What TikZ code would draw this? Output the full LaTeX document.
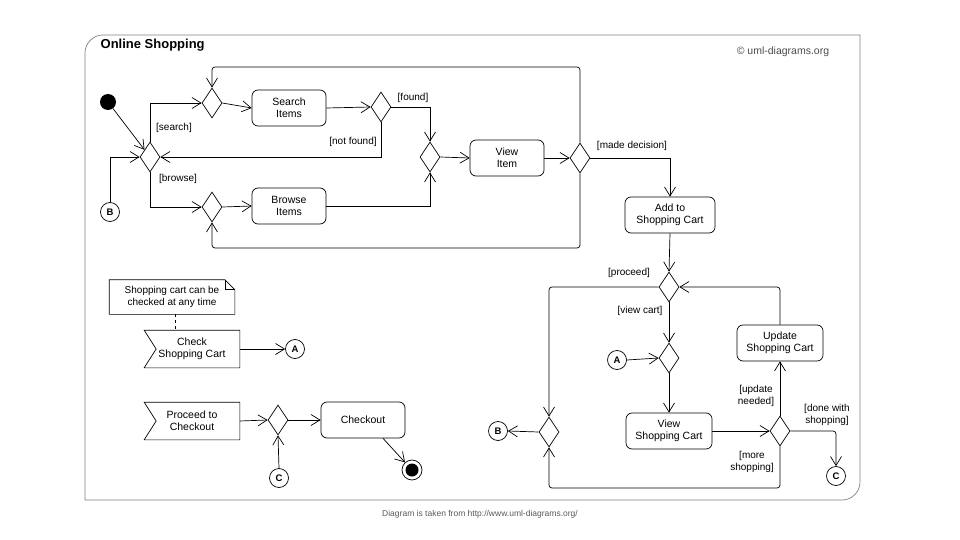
\documentclass[tikz,border=0pt]{standalone}
\usepackage{fontspec}
\setmainfont{Liberation Sans}
\usetikzlibrary{shapes.geometric,arrows.meta,calc}

\tikzset{
  act/.style={draw,rounded corners=6pt,minimum width=74pt,minimum height=36pt,align=center,font=\fontsize{10.5}{12}\selectfont},
  sig/.style={minimum width=95pt,minimum height=37pt,align=center,font=\fontsize{10.5}{12}\selectfont},
  dec/.style={draw,diamond,minimum width=20pt,minimum height=30pt,inner sep=0pt},
  conn/.style={draw,circle,minimum size=19pt,inner sep=0pt,font=\bfseries\fontsize{9.5}{10}\selectfont},
  guard/.style={font=\fontsize{10}{11.5}\selectfont,align=center,inner sep=1pt},
  flow/.style={-{Straight Barb[length=9pt,width=11pt]},line width=0.7pt}
}

\begin{document}
\begin{tikzpicture}[x=1pt,y=-1pt,line width=0.7pt]
\useasboundingbox (0,0) rectangle (960,540);
% frame
\draw[gray] (85,500) [rounded corners=18pt] -- (85,35) [sharp corners] -- (860,35) [rounded corners=18pt] -- (860,500) [sharp corners] -- cycle;
\node[anchor=west,font=\bfseries\fontsize{13}{15}\selectfont] (title) at (97,45) {Online Shopping};
\node[font=\fontsize{10.5}{12}\selectfont,gray!60!black] (copy) at (783,52) {\textcopyright{} uml-diagrams.org};
\node[font=\fontsize{8.5}{10}\selectfont,gray!70!black] (foot) at (480,514) {Diagram is taken from http://www.uml-diagrams.org/};

% top part
\node[circle,fill,minimum size=16pt,inner sep=0pt] (init) at (108,102) {};
\node[dec] (mstart) at (150,157) {};
\node[conn] (b1) at (110,212) {B};
\node[dec] (msearch) at (212,103) {};
\node[act] (search) at (289,108) {Search\\Items};
\node[dec] (found) at (381,107) {};
\node[dec] (mview) at (430,157) {};
\node[act] (view) at (507,158) {View\\Item};
\node[dec] (made) at (580,158) {};
\node[dec] (mbrowse) at (212,207) {};
\node[act] (browse) at (289,206) {Browse\\Items};
\node[act,minimum width=90pt] (cart) at (670,215) {Add to\\Shopping Cart};
\coordinate (looptop) at (580,67);
\coordinate (loopbot) at (580,248);

\draw[flow] (init) -- (mstart);
\draw[flow] (b1.north) |- (mstart.west);
\draw[flow] (mstart.north) |- (msearch.west);
\draw[flow] (mstart.south) |- (mbrowse.west);
\draw[flow] (msearch.east) -- (search.west);
\draw[flow] (search.east) -- (found.west);
\draw[flow] (found.east) -| (mview.north);
\draw[flow] (found.south) |- (mstart.east);
\draw[flow] (mbrowse.east) -- (browse.west);
\draw[flow] (browse.east) -| (mview.south);
\draw[flow] (mview.east) -- (view.west);
\draw[flow] (view.east) -- (made.west);
\draw[flow,rounded corners=3pt] (made.north) -- (looptop) -| (msearch.north);
\draw[flow,rounded corners=3pt] (made.south) -- (loopbot) -| (mbrowse.south);
\draw[flow] (made.east) -| (cart.north);

\node[guard] (gsearch) at (174,128) {[search]};
\node[guard] (gbrowse) at (178,179) {[browse]};
\node[guard] (gfound) at (413,98) {[found]};
\node[guard] (gnotfound) at (353,142) {[not found]};
\node[guard] (gmade) at (632,146) {[made decision]};

% right part
\node[dec] (proceed) at (669,287) {};
\node[dec] (mcart) at (669,358) {};
\node[conn] (a1) at (617,360) {A};
\node[act,minimum width=86pt] (vcart) at (669,431) {View\\Shopping Cart};
\node[dec] (upd) at (780,431) {};
\node[act,minimum width=86pt] (ucart) at (780,343) {Update\\Shopping Cart};
\node[conn] (c1) at (836,476) {C};
\node[dec] (mback) at (549,432) {};
\node[conn] (b2) at (498,431) {B};
\coordinate (mright) at (780,488);

\draw[flow] (cart.south) -- (proceed.north);
\draw[flow,rounded corners=3pt] (proceed.west) -| (mback.north);
\draw[flow] (proceed.south) -- (mcart.north);
\draw[flow] (a1.east) -- (mcart.west);
\draw[flow] (mcart.south) -- (vcart.north);
\draw[flow] (vcart.east) -- (upd.west);
\draw[flow] (upd.north) -- (ucart.south);
\draw[flow,rounded corners=3pt] (ucart.north) |- (proceed.east);
\draw[flow,rounded corners=3pt] (upd.east) -| (c1.north);
\draw[flow,rounded corners=3pt] (upd.south) -- (mright) -| (mback.south);
\draw[flow] (mback.west) -- (b2.east);

\node[guard] (gproceed) at (629,273) {[proceed]};
\node[guard] (gviewcart) at (640,311) {[view cart]};
\node[guard] (gupdate) at (756,396) {[update\\needed]};
\node[guard] (gdone) at (827,415) {[done with\\shopping]};
\node[guard] (gmore) at (752,462) {[more\\shopping]};

% bottom left part
\node[minimum width=125pt,minimum height=34pt,align=center,font=\fontsize{10}{11.5}\selectfont,inner sep=2pt] (note) at (172,297) {Shopping cart can be\\checked at any time};
\draw (note.north west) -- ($(note.north east)+(-10,0)$) -- ($(note.north east)+(0,10)$) -- (note.south east) -- (note.south west) -- cycle;
\draw ($(note.north east)+(-10,0)$) |- ($(note.north east)+(0,10)$);

\node[sig] (check) at (192,349) {Check\\Shopping Cart};
\draw (check.north west) -- (check.north east) -- (check.south east) -- (check.south west) -- ($(check.west)+(12,0)$) -- cycle;
\node[conn] (a2) at (295,349) {A};
\draw[dashed] (note.south) ++(3,0) coordinate (nb) -- (nb |- check.north);
\draw[flow] (check.east) -- (a2.west);

\node[sig] (proc) at (192,421) {Proceed to\\Checkout};
\draw (proc.north west) -- (proc.north east) -- (proc.south east) -- (proc.south west) -- ($(proc.west)+(12,0)$) -- cycle;
\node[dec] (mcheck) at (278,420) {};
\node[conn] (c2) at (279,478) {C};
\node[act,minimum width=84pt] (checkout) at (363,420) {Checkout};
\node[circle,draw,minimum size=20pt,inner sep=0pt] (final) at (412,470) {};
\node[circle,fill,minimum size=13pt,inner sep=0pt] (finaldot) at (final) {};

\draw[flow] (proc.east) -- (mcheck.west);
\draw[flow] (c2.north) -- (mcheck.south);
\draw[flow] (mcheck.east) -- (checkout.west);
\draw[flow] ($(checkout.south)+(20,0)$) -- (final);
\end{tikzpicture}
\end{document}
